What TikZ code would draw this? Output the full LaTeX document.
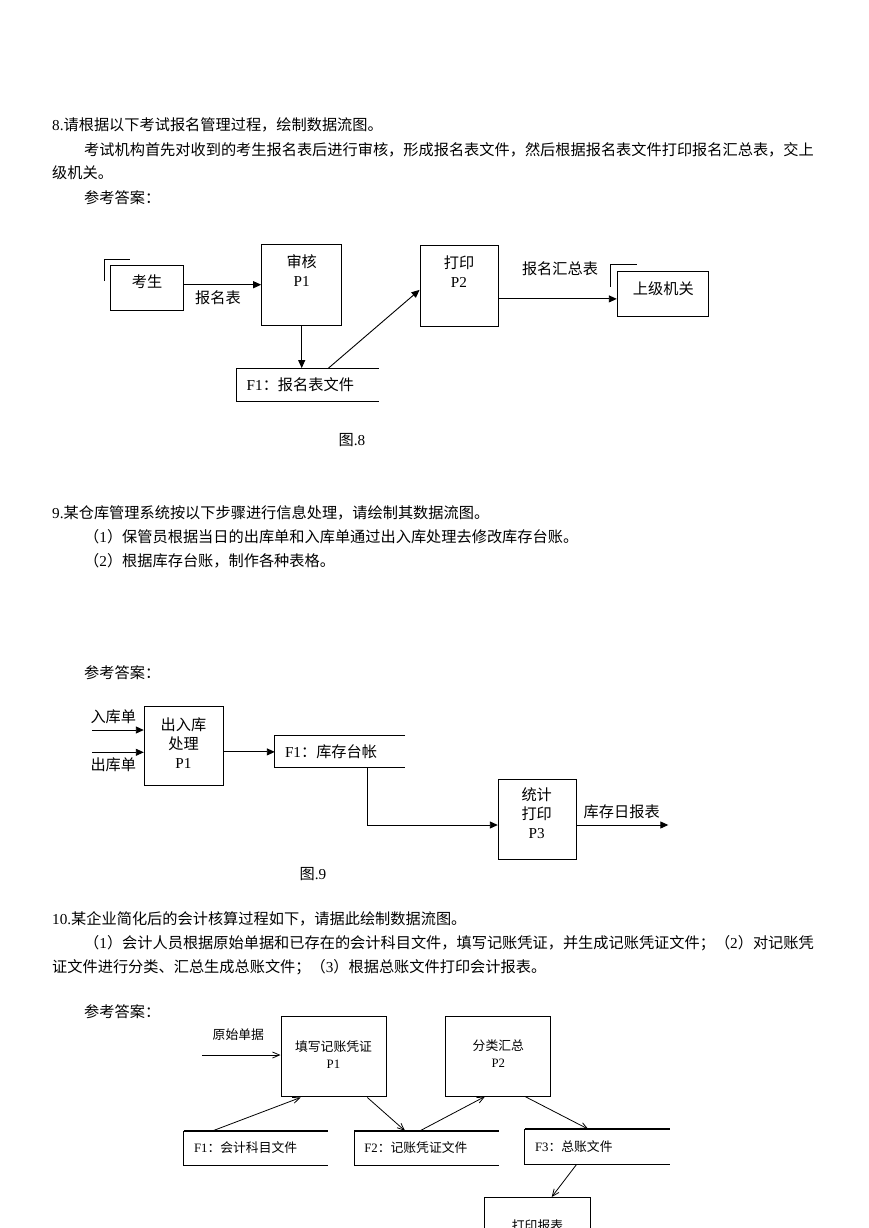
\documentclass[tikz,border=0pt]{standalone}
\usepackage{fontspec}
\setmainfont{Noto Sans CJK SC}
\newfontfamily\tnr{Liberation Serif}
\newcommand{\enf}[1]{{\tnr #1}}
\usetikzlibrary{arrows.meta}

\begin{document}
\begin{tikzpicture}[x=1pt, y=-1pt,
    font=\fontsize{15.2}{19}\selectfont,
    line/.style={anchor=west, inner sep=0pt},
    txt/.style={inner sep=0pt, align=center},
    box/.style={draw, line width=1pt, inner sep=0pt},
    store/.style={inner xsep=10pt, inner ysep=0pt, align=left},
    arr/.style={line width=0.9pt, -{Triangle[length=8pt,width=7pt]}},
    arrb/.style={line width=0.8pt, -{Straight Barb[length=7pt,width=6pt]}},
    small/.style={font=\fontsize{12.8}{17}\selectfont}]
    \path[fill=white, use as bounding box] (0,0) rectangle (869,1228);
    \clip (0,0) rectangle (869,1228);

    \node[line] (q8) at (52,125) {\enf{8.}请根据以下考试报名管理过程，绘制数据流图。};
    \node[line] (q8a) at (84,150) {考试机构首先对收到的考生报名表后进行审核，形成报名表文件，然后根据报名表文件打印报名汇总表，交上};
    \node[line] (q8b) at (52,173) {级机关。};
    \node[line] (a8) at (84,198) {参考答案：};

    \node[box, minimum width=72.6pt, minimum height=45.3pt] (ks) at (147,288.3) {};
    \node[txt] (kst) at (147,281.7) {考生};
    \node[box, minimum width=80pt, minimum height=80.7pt] (p1) at (301.7,284.7) {};
    \node[txt] (p1t) at (301.7,270.5) {审核\\\enf{P1}};
    \node[store, text width=121.6pt, minimum height=33.4pt] (f1) at (307.5,385) {\enf{F1}：报名表文件};
    \node[box, minimum width=78.3pt, minimum height=80.3pt] (p2) at (459.2,285.9) {};
    \node[txt] (p2t) at (459,271.7) {打印\\\enf{P2}};
    \node[box, minimum width=91pt, minimum height=45.7pt] (u) at (662.8,293.9) {};
    \node[txt] (ut) at (663.3,288.3) {上级机关};
    \node[txt] (l1) at (218,297.7) {报名表};
    \node[txt] (l2) at (560,268.3) {报名汇总表};
    \coordinate (uin) at ([yshift=-5pt]u.west);
    \draw[arr] (p1.west -| ks.east) -- (p1.west);
    \draw[arr] (p1.south) -- (p1.south |- f1.north);
    \draw[arr] ([xshift=21pt]f1.north) -- ([yshift=-4pt]p2.west);
    \draw[arr] (p2.east |- uin) -- (uin);
    \foreach \e in {ks, u}
        \draw[line width=1pt] ([shift={(-6,16)}]\e.north west) -- ([shift={(-6,-6)}]\e.north west) -- ([shift={(20,-6)}]\e.north west);
    \node[txt] (c8) at (352,440) {图\enf{.8}};

    \node[line] (q9) at (52,513) {\enf{9.}某仓库管理系统按以下步骤进行信息处理，请绘制其数据流图。};
    \node[line] (q9a) at (84,537) {（\enf{1}）保管员根据当日的出库单和入库单通过出入库处理去修改库存台账。};
    \node[line] (q9b) at (84,561) {（\enf{2}）根据库存台账，制作各种表格。};
    \node[line] (a9) at (84,673) {参考答案：};

    \node[box, minimum width=79pt, minimum height=79.3pt] (p91) at (183.8,746.3) {};
    \node[txt] (p91t) at (183.5,743) {出入库\\处理\\\enf{P1}};
    \node[store, text width=110pt, minimum height=31.7pt] (f9) at (340,751.9) {\enf{F1}：库存台帐};
    \node[box, minimum width=78.4pt, minimum height=80pt] (p3) at (537.5,819.3) {};
    \node[txt] (p3t) at (536.7,813) {统计\\打印\\\enf{P3}};
    \node[txt] (l3) at (113.3,716.7) {入库单};
    \node[txt] (l4) at (113.3,764.3) {出库单};
    \node[txt] (l5) at (621.7,811.7) {库存日报表};
    \coordinate (rk) at (92,730);
    \coordinate (ck) at (92,752.3);
    \coordinate (ro) at (668.3,825);
    \draw[arr] (rk) -- (rk -| p91.west);
    \draw[arr] (ck) -- (ck -| p91.west);
    \draw[arr] (p91.east |- f9.west) -- (f9.west);
    \draw[arr] ([xshift=27.3pt]f9.south) |- ([yshift=-5.7pt]p3.west);
    \draw[arr] ([yshift=-5.7pt]p3.east) -- (ro);
    \node[txt] (c9) at (313,874) {图\enf{.9}};

    \node[line] (q10) at (52,919) {\enf{10.}某企业简化后的会计核算过程如下，请据此绘制数据流图。};
    \node[line] (q10a) at (84,943) {（\enf{1}）会计人员根据原始单据和已存在的会计科目文件，填写记账凭证，并生成记账凭证文件；（\enf{2}）对记账凭};
    \node[line] (q10b) at (52,967) {证文件进行分类、汇总生成总账文件；（\enf{3}）根据总账文件打印会计报表。};
    \node[line] (a10) at (84,1012) {参考答案：};

    \node[box, minimum width=105pt, minimum height=80.5pt] (q1) at (333.5,1056.7) {};
    \node[txt, small] (q1t) at (333.5,1054.5) {填写记账凭证\\\enf{P1}};
    \node[box, minimum width=104.7pt, minimum height=80pt] (q2) at (498.3,1056) {};
    \node[txt, small] (q2t) at (498.3,1054) {分类汇总\\\enf{P2}};
    \node[box, minimum width=105.7pt, minimum height=80pt] (q3) at (537.8,1237.5) {};
    \node[txt, small] (q3t) at (537.5,1226) {打印报表};
    \node[store, small, text width=123.7pt, minimum height=34pt] (g1) at (255.9,1148) {\enf{F1}：会计科目文件};
    \node[store, small, text width=124pt, minimum height=34pt] (g2) at (426.3,1148) {\enf{F2}：记账凭证文件};
    \node[store, small, text width=124.3pt, minimum height=34.7pt] (g3) at (597.2,1146.7) {\enf{F3}：总账文件};
    \node[txt, small] (l6) at (238.3,1035) {原始单据};
    \coordinate (ys) at (202.3,1055);
    \draw[arrb] (ys) -- (ys -| q1.west);
    \draw[arrb] ([xshift=-43.2pt]g1.north) -- ([xshift=-32.8pt]q1.south);
    \draw[arrb] ([xshift=33.8pt]q1.south) -- ([xshift=-21.3pt]g2.north);
    \draw[arrb] ([xshift=-6.3pt]g2.north) -- ([xshift=-13.3pt]q2.south);
    \draw[arrb] ([xshift=26.7pt]q2.south) -- ([xshift=-8.9pt]g3.north);
    \draw[arrb] ([xshift=-20.5pt]g3.south) -- ([xshift=13.9pt]q3.north);

    \foreach \s in {f1, f9}
        \draw[line width=1pt] (\s.north east) -- (\s.north west) -- (\s.south west) -- (\s.south east);
    \foreach \s in {g1, g2, g3} {
        \draw[line width=1.8pt] (\s.north west) -- (\s.north east);
        \draw[line width=1pt] (\s.north west) -- (\s.south west) -- (\s.south east);
    }
\end{tikzpicture}
\end{document}
